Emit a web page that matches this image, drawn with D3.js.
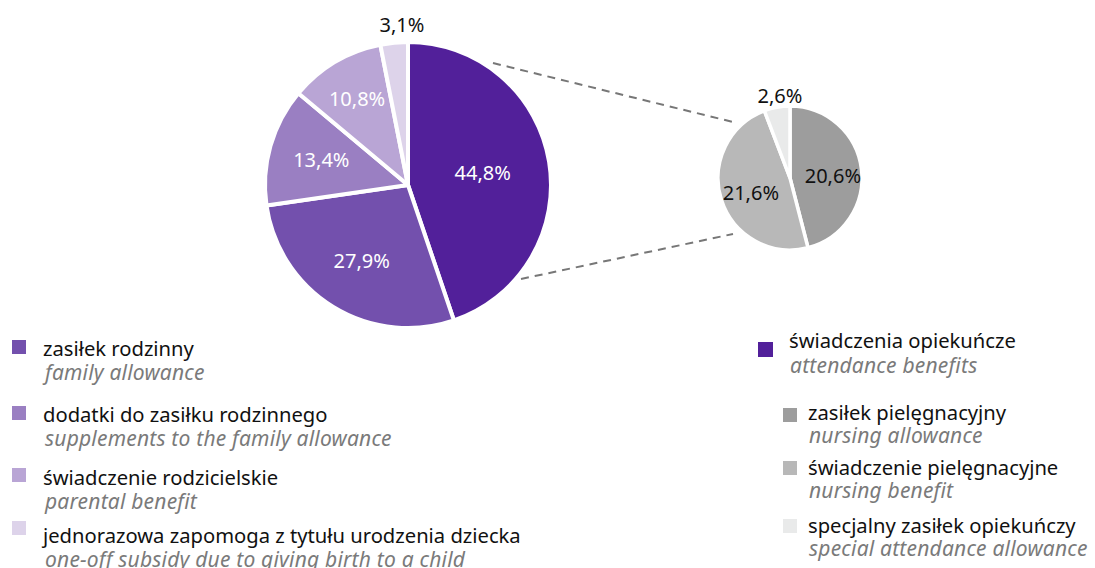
<!DOCTYPE html>
<html><head><meta charset="utf-8">
<script src="https://cdn.jsdelivr.net/npm/d3@7"></script>
<style>
body{margin:0;background:#fff;}
svg{display:block;}
text{font-family:"Noto Sans","Open Sans",sans-serif;}
</style></head>
<body>
<svg id="c" width="1095" height="568"></svg>
<script>
const mainLabels = ["świadczenia opiekuńcze","zasiłek rodzinny","dodatki do zasiłku rodzinnego","świadczenie rodzicielskie","jednorazowa zapomoga z tytułu urodzenia dziecka"];
const mainLabelsEn = ["attendance benefits","family allowance","supplements to the family allowance","parental benefit","one-off subsidy due to giving birth to a child"];
const mainValues = [44.8, 27.9, 13.4, 10.8, 3.1];
const mainColors = ["#52209a","#7350ad","#9a7fc2","#b9a5d5","#ddd3ea"];
const subLabels = ["zasiłek pielęgnacyjny","świadczenie pielęgnacyjne","specjalny zasiłek opiekuńczy"];
const subLabelsEn = ["nursing allowance","nursing benefit","special attendance allowance"];
const subValues = [20.6, 21.6, 2.6];
const subColors = ["#9d9d9d","#b8b8b8","#e9eaea"];

const fmt = v => String(v.toFixed(1)).replace(".", ",") + "%";
const svg = d3.select("#c");
const FS = 20.2, FI = 21;

// Big pie
const big = {cx:408, cy:185, r:143};
const pie = d3.pie().sort(null).value(d=>d);
const bigArcs = pie(mainValues);
const arcB = d3.arc().innerRadius(0).outerRadius(big.r);
const gB = svg.append("g").attr("transform",`translate(${big.cx},${big.cy})`);
gB.selectAll("path").data(bigArcs).join("path")
  .attr("d",arcB).attr("fill",(d,i)=>mainColors[i])
  .attr("stroke","#fff").attr("stroke-width",4).attr("stroke-linejoin","round");

const bigRad = [0.53, 0.62, 0.63, 0.7];
gB.selectAll("text.l").data(bigArcs).join("text")
  .attr("class","l")
  .attr("transform",(d,i)=>{
    if(i===4) return `translate(-6,${-big.r-17})`;
    const rr = big.r*bigRad[i];
    const c = d3.arc().innerRadius(rr).outerRadius(rr).centroid(d);
    return `translate(${c[0]},${c[1]})`;
  })
  .attr("text-anchor","middle").attr("dy","0.35em")
  .attr("font-size",20)
  .attr("fill",(d,i)=>i===4?"#111":"#fff")
  .text((d,i)=>fmt(mainValues[i]));

// Small pie
const sm = {cx:790, cy:178, r:72};
const smArcs = pie(subValues);
const arcS = d3.arc().innerRadius(0).outerRadius(sm.r);
const gS = svg.append("g").attr("transform",`translate(${sm.cx},${sm.cy})`);
gS.selectAll("path").data(smArcs).join("path")
  .attr("d",arcS).attr("fill",(d,i)=>subColors[i])
  .attr("stroke","#fff").attr("stroke-width",3.5).attr("stroke-linejoin","round");
const smRad = [0.6, 0.57];
gS.selectAll("text").data(smArcs).join("text")
  .attr("transform",(d,i)=>{
    if(i===2) return `translate(-10,${-sm.r-10})`;
    const rr = sm.r*smRad[i];
    const c = d3.arc().innerRadius(rr).outerRadius(rr).centroid(d);
    return `translate(${c[0]},${c[1]+3})`;
  })
  .attr("text-anchor","middle").attr("dy","0.35em")
  .attr("font-family","'Open Sans',sans-serif")
  .attr("font-size",20).attr("fill","#111")
  .text((d,i)=>fmt(subValues[i]));

// Connector dashed lines
const lines = [[[493,63],[737,123]],[[521,279],[733,234]]];
svg.selectAll("line.con").data(lines).join("line").attr("class","con")
  .attr("x1",d=>d[0][0]).attr("y1",d=>d[0][1]).attr("x2",d=>d[1][0]).attr("y2",d=>d[1][1])
  .attr("stroke","#777").attr("stroke-width",2).attr("stroke-dasharray","8,6");

// Legends
const leftY = [356, 422, 485, 543];
const leftSq = [354, 420, 482, 535];
[1,2,3,4].forEach((k,j)=>{
  const g = svg.append("g");
  g.append("rect").attr("x",12).attr("y",leftSq[j]-14).attr("width",14).attr("height",14).attr("fill",mainColors[k]);
  g.append("text").attr("x",43).attr("y",leftY[j]).attr("font-size",FS).attr("fill","#111").text(mainLabels[k]);
  g.append("text").attr("x",45).attr("y",leftY[j]+24).attr("font-size",FI).attr("font-style","italic")
    .attr("letter-spacing",0.2).attr("fill","#7a7a7a").text(mainLabelsEn[k]);
});
{
  const g = svg.append("g");
  g.append("rect").attr("x",758).attr("y",342).attr("width",15).attr("height",15).attr("fill",mainColors[0]);
  g.append("text").attr("x",789).attr("y",348).attr("font-size",FS).attr("fill","#111").text(mainLabels[0]);
  g.append("text").attr("x",790).attr("y",373).attr("font-size",FI).attr("font-style","italic")
    .attr("letter-spacing",0.2).attr("fill","#7a7a7a").text(mainLabelsEn[0]);
}
const rY = [420, 475, 533];
const rSq = [408, 461, 519];
subLabels.forEach((l,j)=>{
  const g = svg.append("g");
  g.append("rect").attr("x",783).attr("y",rSq[j]).attr("width",14).attr("height",14).attr("fill",subColors[j]);
  g.append("text").attr("x",808).attr("y",rY[j]).attr("font-size",FS).attr("fill","#111").text(l);
  g.append("text").attr("x",809).attr("y",rY[j]+23).attr("font-size",FI).attr("font-style","italic")
    .attr("letter-spacing",0.2).attr("fill","#7a7a7a").text(subLabelsEn[j]);
});
</script>
</body></html>
